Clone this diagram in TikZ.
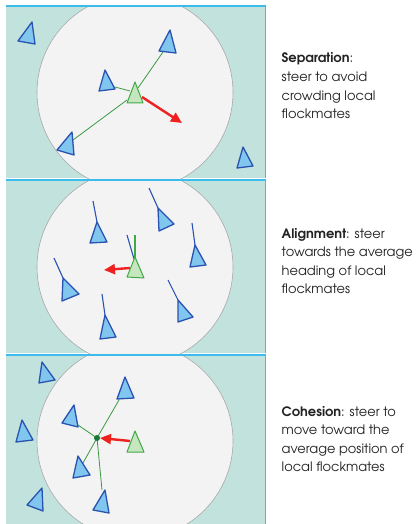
\documentclass[tikz,border=0pt]{standalone}
\usepackage{fontspec}
\setmainfont{TeX Gyre Adventor}
\usetikzlibrary{arrows.meta}
\definecolor{panelbg}{HTML}{C2E2DE}
\definecolor{edgeblue}{HTML}{3CBCEC}
\definecolor{zonefill}{HTML}{F3F3F3}
\definecolor{zonegray}{HTML}{A8A8A8}
\definecolor{boidfill}{HTML}{80C6EE}
\definecolor{boiddraw}{HTML}{2A52B0}
\definecolor{gfill}{HTML}{C6E6C0}
\definecolor{gdraw}{HTML}{3EAA44}
\definecolor{glink}{HTML}{3A9A40}
\definecolor{pushred}{HTML}{EE2020}
\definecolor{dotgreen}{HTML}{187A38}
\definecolor{txt}{HTML}{222222}
\begin{document}
\begin{tikzpicture}[x=1pt,y=-1pt,
  edge/.style={draw=edgeblue,line width=1.6pt},
  zone/.style={fill=zonefill,draw=zonegray,line width=0.6pt},
  boid/.style={fill=boidfill,draw=boiddraw,line width=1.3pt,line join=round},
  gboid/.style={fill=gfill,draw=gdraw,line width=1pt,line join=round},
  link/.style={draw=glink,line width=0.8pt},
  tail/.style={draw=boiddraw,line width=1.1pt},
  gtail/.style={draw=gdraw,line width=1.3pt},
  push/.style={draw=pushred,line width=2.4pt,-{Triangle[length=11pt,width=10pt]}},
  lbl/.style={anchor=base west,inner sep=0pt,font=\fontsize{13}{18.5}\selectfont,text=txt,align=left}]
\useasboundingbox (0,0) rectangle (415,524);

% ---------- panel 1: separation ----------
\begin{scope}
  \clip (6,7) rectangle (265,178);
  \fill[panelbg] (6,7) rectangle (265,178);
  \draw[zone] (135,92.5) circle (98);
\end{scope}
\draw[edge] (6,6) -- (265.5,6) -- (265.5,178);

\draw[boid] (32,22) -- (18,41) -- (35,44) -- cycle;
\draw[boid] (243,147) -- (237,168) -- (253,166) -- cycle;
\coordinate (s1) at (163,52);
\coordinate (s2) at (115,87);
\coordinate (s3) at (73,140);
\coordinate (sc1) at (138,88);
\coordinate (sc2) at (130,91);
\coordinate (sc3) at (127,100);
\draw[link] (s1) -- (sc1);
\draw[link] (s2) -- (sc2);
\draw[link] (s3) -- (sc3);
\draw[boid] (170,30) -- (159,51) -- (176,53) -- cycle;
\draw[boid] (105,70) -- (99,91) -- (115,89) -- cycle;
\draw[boid] (72,132) -- (57,150) -- (74,155) -- cycle;
\draw[gboid] (135,82) -- (127,103) -- (143,103) -- cycle;
\coordinate (sa) at (142,97);
\coordinate (sb) at (182,123);
\draw[push] (sa) -- (sb);

% ---------- panel 2: alignment ----------
\begin{scope}
  \clip (6,181) rectangle (265,353);
  \fill[panelbg] (6,181) rectangle (265,353);
  \draw[zone] (135,267) circle (98);
\end{scope}
\draw[edge] (6,180) -- (265.5,180) -- (265.5,353);

\draw[tail] (93,201) -- (97,222);
\draw[boid] (97,222) -- (90,243) -- (107,242) -- cycle;
\draw[tail] (149,188) -- (158,208);
\draw[boid] (158,208) -- (159,231) -- (174,224) -- cycle;
\draw[tail] (192,223) -- (195,245);
\draw[boid] (195,245) -- (190,267) -- (206,265) -- cycle;
\draw[tail] (54,258) -- (63,278);
\draw[boid] (63,278) -- (62,301) -- (79,294) -- cycle;
\draw[tail] (102,294) -- (105,315);
\draw[boid] (105,315) -- (100,339) -- (116,337) -- cycle;
\draw[tail] (168,280) -- (178,300);
\draw[boid] (178,300) -- (178,322) -- (193,317) -- cycle;
\draw[tail] (127,235) -- (134,259);
\draw[gtail] (135,235) -- (135,257);
\draw[gboid] (135,257) -- (127,277) -- (144,278) -- cycle;
\coordinate (aa) at (130,268);
\coordinate (ab) at (104,270);
\draw[push] (aa) -- (ab);

% ---------- panel 3: cohesion ----------
\begin{scope}
  \clip (6,356) rectangle (265,524);
  \fill[panelbg] (6,356) rectangle (265,524);
  \draw[zone] (135,441) circle (98);
\end{scope}
\draw[edge] (6,355) -- (265.5,355) -- (265.5,524);

\draw[boid] (42,362) -- (39,383) -- (55,380) -- cycle;
\draw[boid] (22,420) -- (16,442) -- (33,440) -- cycle;
\draw[boid] (42,488) -- (27,505) -- (43,511) -- cycle;
\coordinate (cd) at (97,438);
\coordinate (c1) at (119,400);
\coordinate (c2) at (78,425);
\coordinate (c3) at (83,463);
\coordinate (c4) at (102,490);
\draw[link] (cd) -- (c1);
\draw[link] (cd) -- (c2);
\draw[link] (cd) -- (c3);
\draw[link] (cd) -- (c4);
\draw[boid] (125,377) -- (117,399) -- (134,398) -- cycle;
\draw[boid] (74,405) -- (62,423) -- (78,427) -- cycle;
\draw[boid] (78,456) -- (73,478) -- (90,475) -- cycle;
\draw[boid] (105,490) -- (93,510) -- (109,513) -- cycle;
\draw[gboid] (135,431) -- (127,452) -- (144,452) -- cycle;
\coordinate (ca) at (130,441);
\coordinate (cb) at (100,438);
\draw[push] (ca) -- (cb);
\fill[dotgreen] (cd) circle (3);

% ---------- texts (base anchor = last line) ----------
\node[lbl] (t1) at (281.5,118.5) {\textbf{Separation}:\\steer to avoid\\crowding local\\flockmates};
\node[lbl] (t2) at (281.5,293.5) {\textbf{Alignment}: steer\\towards the average\\heading of local\\flockmates};
\node[lbl] (t3) at (281.5,471.5) {\textbf{Cohesion}: steer to\\move toward the\\average position of\\local flockmates};
\end{tikzpicture}
\end{document}
